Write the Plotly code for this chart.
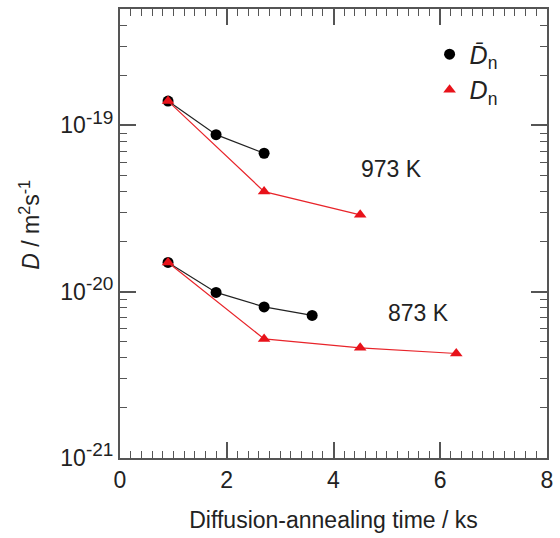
import plotly.graph_objects as go

# Data
t_bar_973 = [0.9, 1.8, 2.7]
d_bar_973 = [1.40e-19, 8.8e-20, 6.8e-20]
t_n_973 = [0.9, 2.7, 4.5]
d_n_973 = [1.40e-19, 4.0e-20, 2.9e-20]
t_bar_873 = [0.9, 1.8, 2.7, 3.6]
d_bar_873 = [1.50e-20, 9.9e-21, 8.1e-21, 7.2e-21]
t_n_873 = [0.9, 2.7, 4.5, 6.3]
d_n_873 = [1.50e-20, 5.2e-21, 4.6e-21, 4.25e-21]

y_tickvals = [1e-21, 1e-20, 1e-19]
y_ticktext = ["10<sup><span style='font-size:19px'>-21</span></sup>",
              "10<sup><span style='font-size:19px'>-20</span></sup>",
              "10<sup><span style='font-size:19px'>-19</span></sup>"]

FONT = "Liberation Sans"
AX = "#555555"
TXT = "#222222"
FS = 23

fig = go.Figure()

for t, d in [(t_bar_973, d_bar_973), (t_bar_873, d_bar_873)]:
    fig.add_trace(go.Scatter(x=t, y=d, mode="lines+markers",
                             line=dict(color="#222222", width=1.2),
                             marker=dict(symbol="circle", size=11, color="black"),
                             showlegend=False))
for t, d in [(t_n_973, d_n_973), (t_n_873, d_n_873)]:
    fig.add_trace(go.Scatter(x=t, y=d, mode="lines+markers",
                             line=dict(color="#e8242a", width=1.2),
                             marker=dict(symbol="triangle-up", size=11, color="#e8121a"),
                             showlegend=False))

# legend entries (marker only)
fig.add_trace(go.Scatter(x=[None], y=[None], mode="markers",
                         marker=dict(symbol="circle", size=11, color="black"),
                         name="<i>D̄</i><sub>n</sub>"))
fig.add_trace(go.Scatter(x=[None], y=[None], mode="markers",
                         marker=dict(symbol="triangle-up", size=11, color="#e8121a"),
                         name="<i>D</i><sub>n</sub>"))

fig.add_annotation(x=5.08, y=-19.263, xref="x", yref="y", text="973 K",
                   showarrow=False, font=dict(size=FS, color=TXT, family=FONT))
fig.add_annotation(x=5.6, y=-20.13, xref="x", yref="y", text="873 K",
                   showarrow=False, font=dict(size=FS, color=TXT, family=FONT))

# y-axis title
fig.add_annotation(x=-0.2125, y=0.52, xref="paper", yref="paper",
                   xanchor="center", yanchor="middle",
                   text="<i>D</i> / m<sup>2</sup>s<sup>-1</sup>", textangle=-90,
                   showarrow=False, font=dict(size=FS, color=TXT, family=FONT))

fig.update_xaxes(range=[0, 8], dtick=2, tick0=0,
                 ticks="inside", ticklen=16, tickwidth=1.5, tickcolor=AX,
                 minor=dict(ticks="inside", ticklen=7, dtick=0.2, tickcolor=AX, tickwidth=1.2, showgrid=False),
                 showline=True, linecolor=AX, linewidth=2, mirror="allticks",
                 showgrid=False, zeroline=False,
                 tickfont=dict(size=FS, color=TXT, family=FONT),
                 title=dict(text="Diffusion-annealing time / ks", standoff=20,
                            font=dict(size=FS, color=TXT, family=FONT)))
fig.update_yaxes(type="log", range=[-21, -18.30],
                 tickvals=y_tickvals, ticktext=y_ticktext,
                 ticks="inside", ticklen=16, tickwidth=1.5, tickcolor=AX,
                 minor=dict(ticks="inside", ticklen=7, dtick="D1", tickcolor=AX, tickwidth=1.2, showgrid=False),
                 showline=True, linecolor=AX, linewidth=2, mirror="allticks",
                 showgrid=False, zeroline=False,
                 tickfont=dict(size=FS, color=TXT, family=FONT))

fig.update_layout(width=560, height=538,
                  margin=dict(l=120, r=7, t=8, b=80),
                  plot_bgcolor="white", paper_bgcolor="white",
                  font=dict(family=FONT),
                  legend=dict(x=0.725, y=0.95, xanchor="left", yanchor="top",
                              bgcolor="rgba(0,0,0,0)", itemwidth=30,
                              font=dict(size=25, color=TXT, family=FONT),
                              tracegroupgap=4))

fig.write_html("out.html")
